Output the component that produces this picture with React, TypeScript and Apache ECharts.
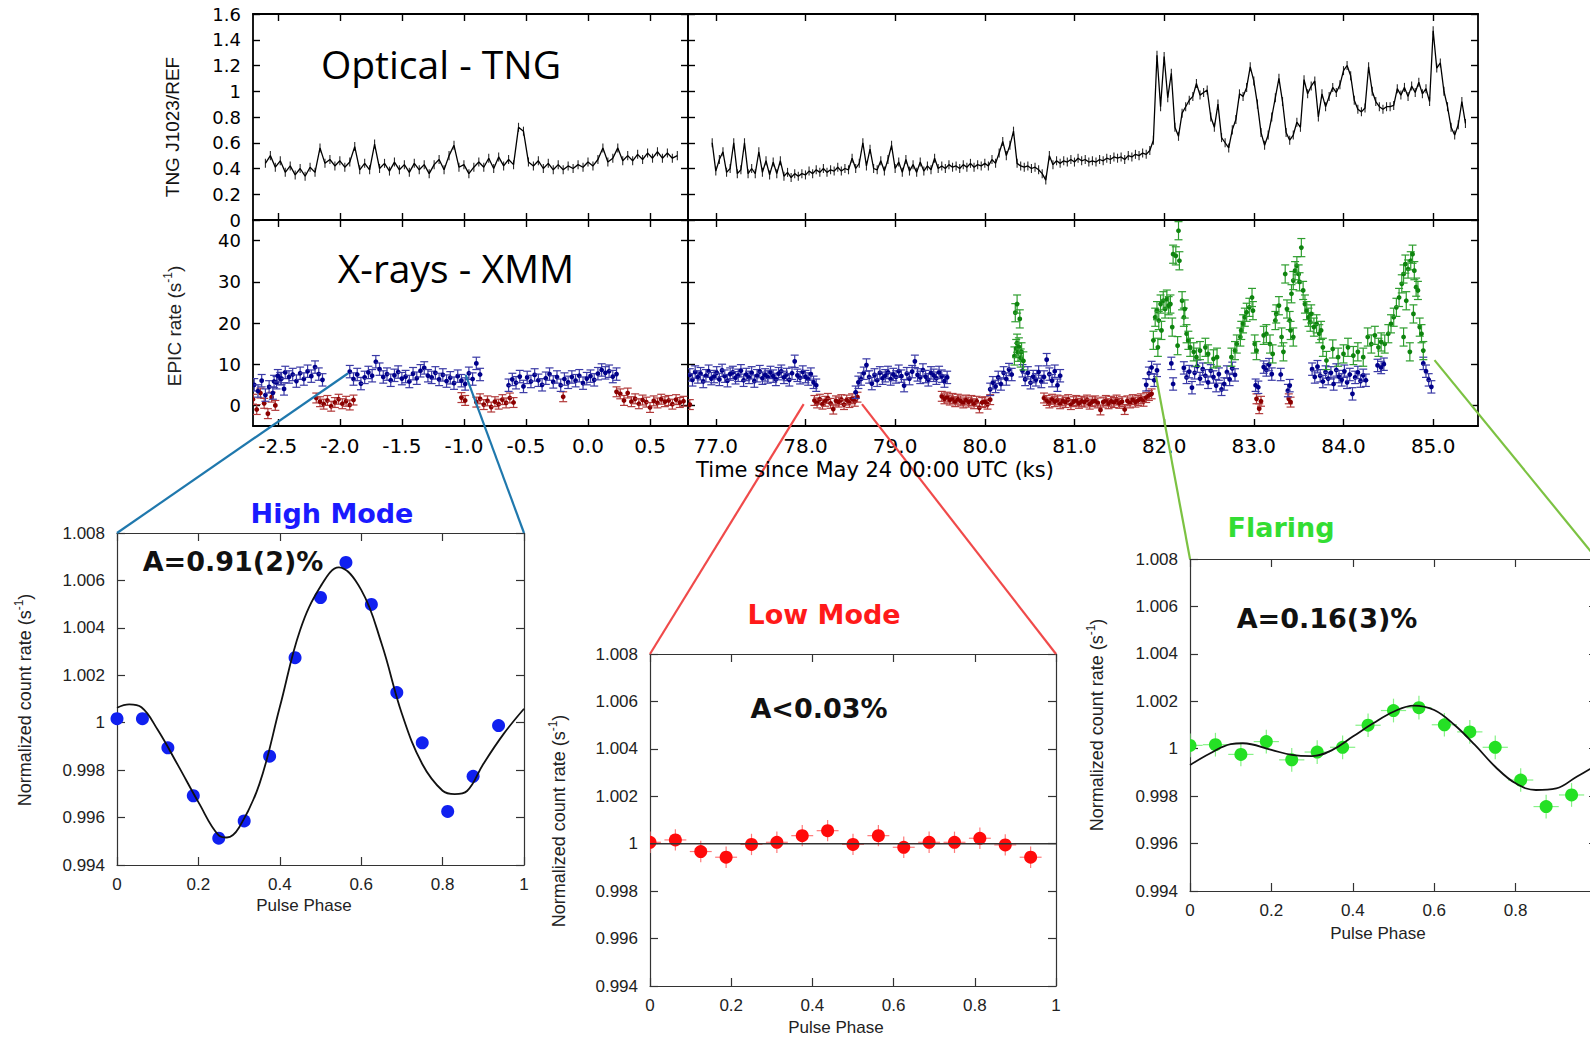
import React, { useEffect, useRef } from 'react';
import * as echarts from 'echarts';

// ---------------- Optical (TNG) light curve ----------------
const OPT_STEP = 0.04;
const OPT_ERR = 0.035;
const OPT_LEFT_T0 = -2.6;
const optLeft = [
  0.44, 0.5, 0.41, 0.46, 0.37, 0.42, 0.35, 0.4, 0.34, 0.41, 0.37, 0.56, 0.44, 0.47, 0.42, 0.46, 0.41, 0.45, 0.57, 0.39,
  0.44, 0.39, 0.59, 0.4, 0.44, 0.38, 0.45, 0.39, 0.43, 0.37, 0.44, 0.39, 0.43, 0.36, 0.43, 0.47, 0.39, 0.5, 0.58, 0.41,
  0.43, 0.36, 0.41, 0.45, 0.41, 0.48, 0.4, 0.49, 0.42, 0.47, 0.43, 0.72, 0.69, 0.45, 0.42, 0.46, 0.4, 0.44, 0.39, 0.43,
  0.39, 0.42, 0.4, 0.43, 0.41, 0.45, 0.42, 0.47, 0.56, 0.45, 0.48, 0.56, 0.46, 0.5, 0.46, 0.51, 0.47, 0.52, 0.48, 0.53,
  0.48, 0.52, 0.48, 0.5,
];
const OPT_RIGHT_T0 = 76.96;
const optRight = [
  0.6, 0.38, 0.47, 0.53, 0.37, 0.4, 0.6, 0.36, 0.39, 0.6, 0.36, 0.4, 0.36, 0.53, 0.37, 0.46, 0.35, 0.45, 0.36, 0.46, 0.34, 0.37, 0.33, 0.36, 0.34, 0.36,
  0.35, 0.38, 0.36, 0.39, 0.37, 0.4, 0.37, 0.39, 0.38, 0.41, 0.38, 0.4, 0.39, 0.48, 0.4, 0.44, 0.6, 0.42, 0.55, 0.4, 0.39, 0.46, 0.38, 0.47, 0.58,
  0.4, 0.45, 0.37, 0.47, 0.38, 0.43, 0.37, 0.45, 0.38, 0.42, 0.39, 0.48, 0.4, 0.42, 0.4, 0.43, 0.41, 0.42, 0.4, 0.43, 0.41, 0.44, 0.41, 0.43, 0.42,
  0.44, 0.42, 0.47, 0.44, 0.52, 0.61, 0.5, 0.58, 0.69, 0.44, 0.42, 0.41, 0.42, 0.4, 0.41, 0.39, 0.36, 0.31, 0.5, 0.43, 0.46, 0.44, 0.46, 0.45, 0.47,
  0.45, 0.48, 0.46, 0.47, 0.45, 0.46, 0.45, 0.47, 0.46, 0.48, 0.47, 0.49, 0.48, 0.49, 0.47, 0.5, 0.49, 0.51, 0.5, 0.52, 0.51, 0.54, 0.62, 1.28, 0.88,
  1.27, 0.95, 1.14, 0.72, 0.65, 0.83, 0.88, 0.93, 0.96, 1.06, 0.97, 0.99, 1.01, 0.8, 0.72, 0.9, 0.64, 0.6, 0.56, 0.7, 0.78, 0.98, 0.96, 1.03, 1.19,
  1.08, 0.9, 0.68, 0.58, 0.66, 0.8, 0.95, 1.1, 0.92, 0.68, 0.62, 0.66, 0.76, 0.72, 1.09, 0.98, 1.04, 1.08, 0.8, 0.98, 0.88, 0.96, 1.03, 0.99, 1.05,
  1.16, 1.2, 1.12, 0.93, 0.86, 0.84, 0.87, 1.19, 1.0, 0.92, 0.88, 0.86, 0.88, 0.88, 0.89, 1.02, 0.97, 1.03, 0.96, 1.04, 0.99, 1.07, 0.98, 1.02, 0.92,
  1.47, 1.18, 1.22, 1.0, 0.88, 0.72, 0.66, 0.74, 0.92, 0.75,
];

// ---------------- X-ray (XMM) light curve, binned ----------------
const XR_STEP = 0.03;
// left panel
const lowL1 = [1.5, -1.0, 3.0, 0.5, -2.0, 2.0, 0.0];
const lowL2 = [1.8, 0.9, 0.3, 1.2, -0.2, 0.7, 1.5, 0.4, 1.0, 0.1, 1.3];
const lowL3 = [1.9, 1.2];
const lowL4 = [0.8, 1.6, 0.2, 1.1, -0.4, 0.9, 0.3, 1.4, 0.6, 1.8, 0.7];
const lowL5 = [2.1];
const lowL6 = [3.3, 2.8, 1.2, 3.0, 0.9, 1.6, 0.4, 1.3, 0.8, -0.5, 1.1, 0.6, 1.5, 0.9, 1.2, 0.3, 1.4, 0.7, 1.0];
const highL0 = [5.0, 3.5, 6.0, 2.5, 4.5, 3.0, 5.5, 6.5, 4.0];
const highL1 = [5.8, 7.2, 6.5, 8.0, 6.9, 7.5, 5.9, 7.8, 6.4, 8.3, 7.1, 9.3, 7.6, 6.2];
const highL2 = [
  8.2, 6.4, 7.5, 5.3, 6.8, 8.0, 7.2, 10.6, 8.8, 6.9, 7.6, 6.1, 7.3, 8.1, 6.5, 7.0, 5.8, 7.7,
  6.6, 8.4, 9.1, 7.2, 6.8, 7.9, 6.3, 7.4, 5.9, 6.7, 5.4, 7.1, 6.0, 5.2, 7.8, 6.4, 10.2, 7.5,
];
const highL3 = [
  4.9, 6.3, 5.5, 7.0, 4.6, 6.8, 5.8, 7.4, 6.1, 5.0, 6.6, 7.6, 5.7, 6.9, 4.9,
  6.4, 5.6, 6.9, 6.0, 7.2, 5.4, 6.5, 7.1, 6.2, 7.7, 8.6, 7.9, 8.3, 7.0, 7.6,
];
// right panel
const lowR0 = [0.2];
const lowR1 = [1.2, 0.6, 1.5, 0.3, 1.0, 1.7, 0.5, -0.9, 1.1, 0.8, 1.4, 0.2, 1.3, 0.7, 1.6, 1.0, 2.0];
const lowR2 = [2.2, 1.6, 2.0, 1.3, 1.7, 0.9, 1.5, 1.1, 0.6, 1.3, 0.8, 1.2, 0.4, 1.0, -0.6, 0.7, 0.9, 0.3, 1.4];
const lowR3 = [
  1.8, 1.2, 0.6, 1.5, 0.9, 1.3, 0.4, 1.1, 0.7, 1.4, 0.2, 0.9, 1.2, 0.5, 1.0, 0.8, 1.3, 0.3, 0.9, 1.1, 0.6,
  -1.1, 0.8, 1.2, 0.4, 1.0, 0.7, 1.3, 0.5, 0.9, -1.0, 1.1, 0.6, 1.4, 0.8, 1.2, 1.6, 1.0, 1.9, 2.4, 2.8,
];
const lowRx = [[83.03, 1.6], [83.06, -0.8], [83.08, 1.0], [83.39, 1.6], [83.41, 0.8]];
const highR1 = [
  7.4, 6.2, 8.1, 6.9, 7.7, 5.8, 7.2, 8.3, 6.5, 7.0, 7.9, 6.3, 8.5, 7.1, 6.0, 7.6, 8.0, 6.7, 7.3, 8.4, 6.1, 7.5, 6.8, 7.9,
  5.9, 7.2, 8.2, 6.6, 7.4, 6.9, 8.0, 7.1, 6.3, 7.7, 8.3, 6.8, 7.5, 6.2, 7.8, 10.7, 7.3, 6.7, 8.1, 7.0, 6.4, 7.6, 5.6, 4.9,
];
const highR2 = [
  3.2, 5.6, 6.4, 7.8, 9.8, 6.9, 5.3, 7.4, 6.1, 7.9, 6.6, 7.2, 8.0, 6.4, 7.5, 6.9, 8.3, 7.1,
  4.8, 7.7, 6.5, 8.2, 10.7, 7.4, 6.8, 8.6, 7.0, 6.2, 7.9, 7.3, 6.6, 8.0, 7.1, 5.9, 6.8,
];
const highR3 = [3.9, 5.5, 4.6, 6.8, 5.2, 7.9, 6.4, 8.7, 7.5];
const highR4 = [8.4, 6.3, 7.9, 5.5, 7.0, 6.2, 8.1, 5.8, 6.9, 11.1, 7.6, 6.0, 8.3, 4.9, 7.2];
const highR5 = [5.0, 7.8, 9.2, 6.1, 8.5];
const highR6 = [9.1, 6.8, 8.2, 4.3, 7.9, 9.5, 6.5, 8.8, 7.2, 5.6, 8.4, 6.9, 4.8, 7.6, 3.9, 5.2, 8.1, 6.3, 9.0, 7.4];
const highR7 = [8.8, 6.9, 9.4, 7.2, 5.8, 8.1, 6.5, 7.9, 5.2, 8.6, 7.0, 6.2, 8.3, 5.6, 7.5, 2.8, 6.8, 8.0, 5.9, 7.3, 6.1];
const highR8 = [10.2, 8.3, 6.2, 4.5];
const highRx = [
  [82.08, 10.2], [82.1, 5.2], [83.02, 4.9], [83.05, 4.4], [83.11, 9.3], [83.14, 8.6], [83.17, 9.9],
  [83.2, 7.6], [83.3, 7.5], [83.38, 3.6], [83.4, 4.8], [84.38, 9.7], [84.42, 9.2], [84.45, 10.0],
];
const flare1 = [[80.34, 22.5], [80.36, 24.6], [80.39, 21.0], [80.33, 12.0], [80.35, 13.8], [80.36, 15.1], [80.37, 12.9], [80.38, 14.2], [80.4, 11.5], [80.41, 13.0], [80.43, 10.8]];
const flare2 = [
  [81.88, 15.8], [81.9, 21.4], [81.92, 23.0], [81.93, 14.1], [81.94, 20.6], [81.96, 24.6], [81.97, 18.2], [81.99, 25.4], [82.01, 23.4],
  [82.03, 25.8], [82.05, 24.2], [82.07, 24.6], [82.09, 19.0], [82.1, 36.7], [82.13, 36.3], [82.16, 42.4], [82.17, 35.1], [82.15, 14.5],
  [82.2, 25.4], [82.22, 21.4], [82.23, 23.4], [82.25, 17.4], [82.27, 15.8], [82.29, 14.1], [82.33, 13.0], [82.36, 11.7], [82.4, 13.3],
  [82.46, 14.1], [82.49, 12.5], [82.55, 11.3], [82.59, 11.7],
];
const flare3 = [
  [82.75, 11.7], [82.79, 13.3], [82.81, 14.9], [82.85, 16.6], [82.86, 18.2], [82.88, 19.8], [82.9, 21.4], [82.92, 22.6],
  [82.95, 23.8], [82.98, 26.2], [82.99, 23.0], [83.01, 14.9], [83.03, 13.3],
];
const flare4 = [
  [83.11, 17.0], [83.14, 17.4], [83.18, 14.9], [83.21, 12.5], [83.24, 20.6], [83.25, 22.2], [83.28, 24.2], [83.31, 16.6],
  [83.33, 13.0], [83.35, 31.9], [83.37, 23.4],
];
const flare5 = [
  [83.4, 20.6], [83.41, 18.2], [83.42, 27.1], [83.44, 30.3], [83.44, 16.6], [83.46, 32.7], [83.48, 33.9], [83.5, 31.9], [83.51, 30.0],
  [83.53, 38.3], [83.55, 27.9], [83.57, 24.6], [83.59, 23.0], [83.61, 21.4], [83.63, 20.2], [83.64, 22.2], [83.67, 19.0], [83.7, 19.8],
  [83.73, 17.4], [83.75, 18.2], [83.77, 14.1],
];
const flare6 = [[83.81, 10.9], [83.88, 13.7], [83.94, 11.7], [84.0, 12.5], [84.05, 14.1], [84.11, 12.1], [84.16, 13.0], [84.22, 11.7]];
const flare7 = [
  [84.27, 16.6], [84.31, 14.9], [84.35, 17.0], [84.39, 14.1], [84.42, 15.4], [84.46, 14.9], [84.5, 17.4], [84.53, 19.8], [84.56, 21.4],
  [84.59, 23.8], [84.62, 26.2], [84.65, 29.5], [84.67, 31.9], [84.67, 16.6], [84.69, 34.3], [84.7, 25.4], [84.72, 33.1], [84.74, 13.0],
  [84.75, 35.1], [84.77, 36.7], [84.78, 22.2], [84.79, 32.7], [84.81, 28.7], [84.83, 27.9], [84.85, 19.0], [84.87, 17.4], [84.89, 13.3],
];

// ---------------- Pulse profiles ----------------
const phaseBins = [0, 0.0625, 0.125, 0.1875, 0.25, 0.3125, 0.375, 0.4375, 0.5, 0.5625, 0.625, 0.6875, 0.75, 0.8125, 0.875, 0.9375];
const highVals = [1.00017, 1.00017, 0.99894, 0.99692, 0.99513, 0.99586, 0.99859, 1.00274, 1.00528, 1.00676, 1.00499, 1.00127, 0.99915, 0.99626, 0.99774, 0.99988];
const lowVals = [1.00006, 1.00016, 0.99967, 0.99943, 0.99997, 1.00006, 1.00034, 1.00055, 0.99997, 1.00034, 0.99985, 1.00006, 1.00006, 1.00023, 0.99995, 0.99943];
const flareVals = [1.00014, 1.00017, 0.99976, 1.0003, 0.99953, 0.99986, 1.00006, 1.00099, 1.00161, 1.00173, 1.00101, 1.00071, 1.00006, 0.99868, 0.99756, 0.99805];
const highFitPhase = [0, 0.03, 0.06, 0.1, 0.15, 0.2, 0.25, 0.27, 0.3, 0.35, 0.4, 0.45, 0.5, 0.545, 0.6, 0.65, 0.7, 0.75, 0.8, 0.83, 0.86, 0.9, 0.95, 1.0];
const highFitVals = [1.00063, 1.00077, 1.00065, 0.9997, 0.9982, 0.99665, 0.99525, 0.99516, 0.99558, 0.99742, 1.00066, 1.00391, 1.00574, 1.00655, 1.0056, 1.00334, 1.00038, 0.99826, 0.99713, 0.99699, 0.99712, 0.99826, 0.99953, 1.00059];
const lowFitPhase = [0, 1];
const lowFitVals = [1.0, 1.0];
const flareFitPhase = [0, 0.05, 0.1, 0.13, 0.2, 0.25, 0.3, 0.35, 0.4, 0.45, 0.5, 0.55, 0.6, 0.65, 0.7, 0.75, 0.8, 0.85, 0.9, 0.95, 1.0];
const flareFitVals = [0.99931, 0.99981, 1.00019, 1.00023, 0.99995, 0.99974, 0.99969, 0.99995, 1.00051, 1.00107, 1.00156, 1.00182, 1.00163, 1.001, 1.00016, 0.99924, 0.99854, 0.99826, 0.99833, 0.99882, 0.99931];

// ---------------- Tick values ----------------
const leftTimeTicks = [-2.5, -2.0, -1.5, -1.0, -0.5, 0.0, 0.5];
const rightTimeTicks = [77, 78, 79, 80, 81, 82, 83, 84, 85];
const opticalTicks = [0, 0.2, 0.4, 0.6, 0.8, 1.0, 1.2, 1.4, 1.6];
const xrayTicks = [0, 10, 20, 30, 40];
const phaseTicks = [0, 0.2, 0.4, 0.6, 0.8, 1];
const phaseLabelsCut = [0, 0.2, 0.4, 0.6, 0.8];
const rateTicks = [0.994, 0.996, 0.998, 1.0, 1.002, 1.004, 1.006, 1.008];

// data points (time, rate) that the zoom-in lines start from
const zoomAnchorsHigh = [[-1.933, 7.8], [-0.986, 7.4]];
const zoomAnchorsLow = [[77.98, 0.3], [78.63, 0.3]];
const zoomAnchorsFlare = [[81.91, 7.0], [85.015, 11.0]];

const AXF = 'DejaVu Sans';
const PF = 'Liberation Sans';

const seg = (t0: number, vals: number[]) => vals.map((v, i) => [+(t0 + i * XR_STEP).toFixed(3), v]);
const curve = (t0: number, step: number, vals: number[]) => vals.map((v, i) => [+(t0 + i * step).toFixed(3), v]);
const zip = (xs: number[], ys: number[]) => xs.map((x, i) => [x, ys[i]]);

function topX(grid: number, min: number, max: number, ticks: number[], labels: boolean, pos: string) {
  return {
    type: 'value', gridIndex: grid, min, max, position: pos,
    axisLine: { show: true, onZero: false, lineStyle: { color: '#000', width: 1.8 } },
    axisTick: { show: true, inside: true, length: 7, customValues: ticks, lineStyle: { color: '#000', width: 1.4 } },
    axisLabel: { show: labels, customValues: ticks, formatter: (v: number) => v.toFixed(1), fontFamily: AXF, fontSize: 20, color: '#000', margin: 10 },
    splitLine: { show: false },
  };
}
function topY(grid: number, min: number, max: number, ticks: number[], labels: boolean, pos: string) {
  return {
    type: 'value', gridIndex: grid, min, max, position: pos,
    axisLine: { show: true, onZero: false, lineStyle: { color: '#000', width: 1.8 } },
    axisTick: { show: true, inside: true, length: 7, customValues: ticks, lineStyle: { color: '#000', width: 1.4 } },
    axisLabel: { show: labels, customValues: ticks, formatter: (v: number) => String(Number(v.toFixed(1))), fontFamily: AXF, fontSize: 18, color: '#000', margin: 12 },
    splitLine: { show: false },
  };
}
function pAxis(kind: 'x' | 'y', grid: number, pos: string, labels: boolean, labelValues?: number[]) {
  const isX = kind === 'x';
  const ticks = isX ? phaseTicks : rateTicks;
  return {
    type: 'value', gridIndex: grid, position: pos,
    min: isX ? 0 : 0.994, max: isX ? 1 : 1.008,
    axisLine: { show: true, onZero: false, lineStyle: { color: '#333', width: 1.2 } },
    axisTick: { show: true, inside: true, length: 8, customValues: ticks, lineStyle: { color: '#333', width: 1.2 } },
    axisLabel: {
      show: labels, customValues: labelValues || ticks, formatter: (v: number) => String(Number(v.toFixed(3))),
      fontFamily: PF, fontSize: 17, color: '#222', margin: isX ? 11 : 12,
    },
    splitLine: { show: false },
  };
}

function errRender(err: number, xErr: number, cap: number, r: number, dot: string, bar: string, barW = 1.2) {
  return (params: any, api: any) => {
    const x = api.value(0);
    const y = api.value(1);
    const c = api.coord([x, y]);
    const t = api.coord([x, y + err]);
    const b = api.coord([x, y - err]);
    const st = { stroke: bar, lineWidth: barW };
    const ch: any[] = [{ type: 'line', shape: { x1: c[0], y1: t[1], x2: c[0], y2: b[1] }, style: st }];
    if (cap > 0) {
      ch.push({ type: 'line', shape: { x1: c[0] - cap, y1: t[1], x2: c[0] + cap, y2: t[1] }, style: st });
      ch.push({ type: 'line', shape: { x1: c[0] - cap, y1: b[1], x2: c[0] + cap, y2: b[1] }, style: st });
    }
    if (xErr > 0) {
      const l = api.coord([x - xErr, y]);
      const rr = api.coord([x + xErr, y]);
      ch.push({ type: 'line', shape: { x1: l[0], y1: c[1], x2: rr[0], y2: c[1] }, style: st });
    }
    if (r > 0) ch.push({ type: 'circle', shape: { cx: c[0], cy: c[1], r }, style: { fill: dot } });
    return { type: 'group', children: ch };
  };
}
function errSeries(axisIdx: number, data: any[], render: any) {
  return { type: 'custom', xAxisIndex: axisIdx, yAxisIndex: axisIdx, clip: true, data, renderItem: render };
}

function txt(text: string, x: number, y: number, size: number, family: string, color = '#000', weight = 'normal', rotation = 0) {
  return {
    type: 'text', x, y, rotation, z: 60,
    style: { text, x: 0, y: 0, align: 'center', verticalAlign: 'middle', fontSize: size, fontFamily: family, fontWeight: weight, fill: color },
  };
}
function supTxt(base: string, x: number, y: number, size: number) {
  return {
    type: 'text', x, y, rotation: Math.PI / 2, z: 60,
    style: {
      text: `{a|${base}}{b|-1}{a|)}`, x: 0, y: 0, align: 'center', verticalAlign: 'middle',
      rich: {
        a: { fontSize: size, fontFamily: PF, fill: '#222', lineHeight: size + 6 },
        b: { fontSize: Math.round(size * 0.65), fontFamily: PF, fill: '#222', lineHeight: Math.round(size * 0.65), verticalAlign: 'top' },
      },
    },
  };
}

export default function App() {
  const ref = useRef<HTMLDivElement>(null);
  useEffect(() => {
    document.body.style.margin = '0';
    const chart = echarts.init(ref.current as HTMLDivElement, null, { renderer: 'svg' });
    const gridDefs = [
      { left: 253, top: 14, width: 435, height: 206 },
      { left: 688, top: 14, width: 790, height: 206 },
      { left: 253, top: 220, width: 435, height: 206 },
      { left: 688, top: 220, width: 790, height: 206 },
      { left: 117, top: 533, width: 407, height: 332 },
      { left: 650, top: 654, width: 406, height: 332 },
      { left: 1190, top: 559, width: 407, height: 332 },
    ].map((g) => ({ ...g, containLabel: false, outerBoundsMode: 'none', show: false }));

    const LX: [number, number] = [-2.7, 0.806];
    const RX: [number, number] = [76.69, 85.5];
    const xAxis = [
      topX(0, LX[0], LX[1], leftTimeTicks, false, 'bottom'), topX(0, LX[0], LX[1], leftTimeTicks, false, 'top'),
      topX(1, RX[0], RX[1], rightTimeTicks, false, 'bottom'), topX(1, RX[0], RX[1], rightTimeTicks, false, 'top'),
      topX(2, LX[0], LX[1], leftTimeTicks, true, 'bottom'), topX(2, LX[0], LX[1], leftTimeTicks, false, 'top'),
      topX(3, RX[0], RX[1], rightTimeTicks, true, 'bottom'), topX(3, RX[0], RX[1], rightTimeTicks, false, 'top'),
      pAxis('x', 4, 'bottom', true), pAxis('x', 4, 'top', false),
      pAxis('x', 5, 'bottom', true), pAxis('x', 5, 'top', false),
      pAxis('x', 6, 'bottom', true, phaseLabelsCut), pAxis('x', 6, 'top', false),
    ];
    const yAxis = [
      topY(0, 0, 1.6, opticalTicks, true, 'left'), topY(0, 0, 1.6, opticalTicks, false, 'right'),
      topY(1, 0, 1.6, opticalTicks, false, 'left'), topY(1, 0, 1.6, opticalTicks, false, 'right'),
      topY(2, -5, 45, xrayTicks, true, 'left'), topY(2, -5, 45, xrayTicks, false, 'right'),
      topY(3, -5, 45, xrayTicks, false, 'left'), topY(3, -5, 45, xrayTicks, false, 'right'),
      pAxis('y', 4, 'left', true), pAxis('y', 4, 'right', false),
      pAxis('y', 5, 'left', true), pAxis('y', 5, 'right', false),
      pAxis('y', 6, 'left', true), pAxis('y', 6, 'right', false),
    ];

    const redL = [...seg(-2.7, lowL1), ...seg(-2.19, lowL2), ...seg(-1.02, lowL3), ...seg(-0.9, lowL4), ...seg(-0.2, lowL5), ...seg(0.23, lowL6)];
    const blueL = [...seg(-2.69, highL0), ...seg(-2.53, highL1), ...seg(-1.92, highL2), ...seg(-0.64, highL3)];
    const redR = [...seg(76.71, lowR0), ...seg(78.1, lowR1), ...seg(79.52, lowR2), ...seg(80.66, lowR3), ...lowRx];
    const blueR = [
      ...seg(76.71, highR1), ...seg(78.56, highR2), ...seg(80.06, highR3), ...seg(80.42, highR4), ...seg(81.8, highR5),
      ...seg(82.22, highR6), ...seg(83.65, highR7), ...seg(84.89, highR8), ...highRx,
    ];
    const greenR = [...flare1, ...flare2, ...flare3, ...flare4, ...flare5, ...flare6, ...flare7];
    const optL = curve(OPT_LEFT_T0, OPT_STEP, optLeft);
    const optR = curve(OPT_RIGHT_T0, OPT_STEP, optRight);

    const RED = errRender(1.2, 0, 4, 2.4, '#8b0000', '#b23a3a');
    const BLUE = errRender(1.5, 0, 4, 2.4, '#00008b', '#3a3aa6');
    const GREEN = errRender(2.2, 0, 4, 2.4, '#0e840e', '#2e9e2e');
    const OPTBAR = errRender(OPT_ERR, 0, 0, 0, '#000', '#2a2a2a', 1.1);
    const LOWP = errRender(0.00045, 0.027, 0, 6.5, '#ff0a0a', '#ff7a7a');
    const FLAREP = errRender(0.0005, 0.031, 0, 6.5, '#25e025', '#86f286');

    const series: any[] = [
      errSeries(0, optL, OPTBAR),
      { type: 'line', xAxisIndex: 0, yAxisIndex: 0, data: optL, symbol: 'none', lineStyle: { color: '#000', width: 1.3 } },
      errSeries(2, optR, OPTBAR),
      { type: 'line', xAxisIndex: 2, yAxisIndex: 2, data: optR, symbol: 'none', lineStyle: { color: '#000', width: 1.3 } },
      errSeries(4, redL, RED), errSeries(4, blueL, BLUE),
      errSeries(6, redR, RED), errSeries(6, blueR, BLUE), errSeries(6, greenR, GREEN),
      { type: 'line', xAxisIndex: 8, yAxisIndex: 8, data: zip(highFitPhase, highFitVals), smooth: 0.4, symbol: 'none', lineStyle: { color: '#111', width: 1.8 } },
      { type: 'scatter', xAxisIndex: 8, yAxisIndex: 8, data: zip(phaseBins, highVals), symbolSize: 13, itemStyle: { color: '#1020f0', opacity: 1 } },
      { type: 'line', xAxisIndex: 10, yAxisIndex: 10, data: zip(lowFitPhase, lowFitVals), symbol: 'none', lineStyle: { color: '#333', width: 1.6 } },
      errSeries(10, zip(phaseBins, lowVals), LOWP),
      { type: 'line', xAxisIndex: 12, yAxisIndex: 12, data: zip(flareFitPhase, flareFitVals), smooth: 0.4, symbol: 'none', lineStyle: { color: '#111', width: 1.8 } },
      errSeries(12, zip(phaseBins, flareVals), FLAREP),
    ];

    chart.setOption({ animation: false, backgroundColor: '#fff', grid: gridDefs, xAxis, yAxis, series });

    const P = (idx: number, pt: number[]) => chart.convertToPixel({ xAxisIndex: idx, yAxisIndex: idx } as any, pt) as number[];
    const link = (a: number[], b: number[], color: string) => ({
      type: 'line', z: 50, shape: { x1: a[0], y1: a[1], x2: b[0], y2: b[1] }, style: { stroke: color, lineWidth: 2.2 },
    });
    const lines = [
      link(P(4, zoomAnchorsHigh[0]), P(8, [0, 1.008]), '#1f78ad'),
      link(P(4, zoomAnchorsHigh[1]), P(8, [1, 1.008]), '#1f78ad'),
      link(P(6, zoomAnchorsLow[0]), P(10, [0, 1.008]), '#f04a4a'),
      link(P(6, zoomAnchorsLow[1]), P(10, [1, 1.008]), '#f04a4a'),
      link(P(6, zoomAnchorsFlare[0]), P(12, [0, 1.008]), '#7cc242'),
      link(P(6, zoomAnchorsFlare[1]), P(12, [1, 1.008]), '#7cc242'),
    ];
    const texts = [
      txt('Optical - TNG', 441, 63, 39, 'Open Sans'),
      txt('X-rays - XMM', 456, 267, 39, 'Open Sans'),
      txt('Time since May 24 00:00 UTC (ks)', 875, 470, 21, AXF),
      txt('TNG J1023/REF', 172, 127, 19, PF, '#111', 'normal', Math.PI / 2),
      supTxt('EPIC rate (s', 174, 326, 19),
      txt('High Mode', 332, 513, 27, AXF, '#1a1aff', 'bold'),
      txt('Low Mode', 824, 614, 27, AXF, '#ff1a1a', 'bold'),
      txt('Flaring', 1281, 527, 27, AXF, '#33dd33', 'bold'),
      txt('A=0.91(2)%', 233, 561, 27, AXF, '#111', 'bold'),
      txt('A<0.03%', 819, 708, 27, AXF, '#111', 'bold'),
      txt('A=0.16(3)%', 1327, 618, 27, AXF, '#111', 'bold'),
      supTxt('Normalized count rate (s', 25, 700, 18),
      supTxt('Normalized count rate (s', 559, 821, 18),
      supTxt('Normalized count rate (s', 1097, 725, 18),
      txt('Pulse Phase', 304, 905, 17, PF, '#222'),
      txt('Pulse Phase', 836, 1027, 17, PF, '#222'),
      txt('Pulse Phase', 1378, 933, 17, PF, '#222'),
    ];
    chart.setOption({ graphic: [...lines, ...texts] });
    return () => chart.dispose();
  }, []);
  return <div ref={ref} style={{ position: 'absolute', left: 0, top: 0, width: 1590, height: 1037, background: '#fff' }} />;
}
